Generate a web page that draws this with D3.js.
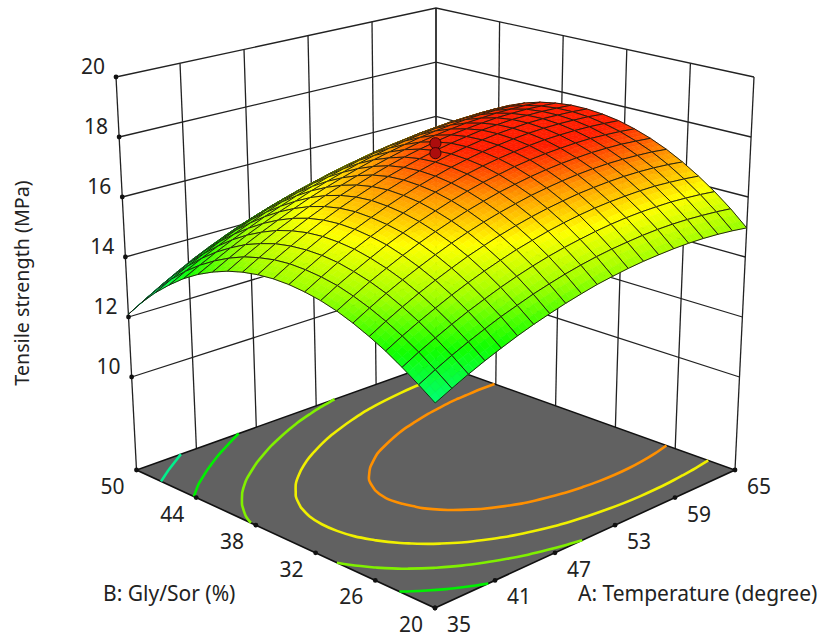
<!DOCTYPE html>
<html>
<head>
<meta charset="utf-8">
<script src="https://cdn.jsdelivr.net/npm/d3@7"></script>
<style>
  html, body { margin: 0; padding: 0; background: #fff; }
  text { font-family: "Noto Sans", sans-serif; font-size: 21px; fill: #222; }
</style>
</head>
<body>
<div id="chart"></div>
<script>
// Axis ticks
var tempTicks = [35, 41, 47, 53, 59, 65];
var glyTicks = [20, 26, 32, 38, 44, 50];
var tensileTicks = [10, 12, 14, 16, 18, 20];

// Floor contours
var contourLevels = [13, 13.95, 14.9, 15.8, 16.78];
var contourColors = ["#00f08c", "#00f000", "#80f000", "#f0f000", "#ff9000"];

// Design points: temperature, gly/sor, tensile strength
var designPoints = [[50, 35, 18.05], [50, 35, 17.72]];

// Tensile strength. Rows: A = 35..65 in 1.5 steps, columns: B = 20..50 in 1.5 steps
var tensileGrid = [
    [13.13, 13.49, 13.83, 14.14, 14.40, 14.63, 14.82, 14.96, 15.05, 15.10, 15.10, 15.05, 14.95, 14.80, 14.59, 14.33, 14.01, 13.62, 13.18, 12.67, 12.09],
    [13.38, 13.76, 14.11, 14.42, 14.69, 14.92, 15.11, 15.26, 15.35, 15.40, 15.41, 15.36, 15.25, 15.10, 14.88, 14.61, 14.29, 13.91, 13.47, 12.97, 12.41],
    [13.62, 14.01, 14.36, 14.68, 14.96, 15.20, 15.39, 15.53, 15.64, 15.69, 15.69, 15.64, 15.54, 15.37, 15.16, 14.88, 14.56, 14.18, 13.74, 13.26, 12.72],
    [13.84, 14.24, 14.60, 14.92, 15.21, 15.45, 15.64, 15.79, 15.90, 15.95, 15.96, 15.91, 15.80, 15.64, 15.41, 15.14, 14.81, 14.43, 14.00, 13.53, 13.01],
    [14.04, 14.45, 14.82, 15.15, 15.44, 15.68, 15.88, 16.04, 16.14, 16.20, 16.21, 16.16, 16.05, 15.88, 15.65, 15.37, 15.04, 14.67, 14.25, 13.79, 13.29],
    [14.23, 14.65, 15.02, 15.36, 15.65, 15.90, 16.10, 16.26, 16.36, 16.42, 16.44, 16.39, 16.28, 16.11, 15.88, 15.60, 15.27, 14.89, 14.48, 14.02, 13.54],
    [14.40, 14.82, 15.21, 15.55, 15.85, 16.10, 16.30, 16.46, 16.57, 16.63, 16.65, 16.60, 16.49, 16.32, 16.09, 15.80, 15.47, 15.10, 14.69, 14.25, 13.77],
    [14.55, 14.99, 15.38, 15.72, 16.02, 16.28, 16.48, 16.64, 16.76, 16.82, 16.84, 16.79, 16.68, 16.51, 16.28, 16.00, 15.67, 15.30, 14.89, 14.45, 13.99],
    [14.69, 15.13, 15.53, 15.88, 16.18, 16.44, 16.65, 16.81, 16.93, 16.99, 17.01, 16.97, 16.86, 16.68, 16.45, 16.17, 15.84, 15.47, 15.07, 14.64, 14.18],
    [14.81, 15.26, 15.66, 16.01, 16.32, 16.58, 16.79, 16.96, 17.07, 17.14, 17.16, 17.12, 17.02, 16.84, 16.61, 16.33, 16.01, 15.64, 15.24, 14.81, 14.36],
    [14.92, 15.37, 15.77, 16.13, 16.44, 16.70, 16.92, 17.09, 17.21, 17.28, 17.30, 17.26, 17.16, 16.98, 16.76, 16.48, 16.15, 15.79, 15.39, 14.97, 14.52],
    [15.00, 15.46, 15.86, 16.23, 16.54, 16.81, 17.02, 17.19, 17.32, 17.39, 17.42, 17.38, 17.28, 17.11, 16.88, 16.61, 16.29, 15.92, 15.53, 15.10, 14.66],
    [15.07, 15.53, 15.94, 16.31, 16.62, 16.89, 17.11, 17.29, 17.41, 17.49, 17.51, 17.48, 17.38, 17.22, 16.99, 16.72, 16.40, 16.04, 15.65, 15.23, 14.78],
    [15.12, 15.58, 16.00, 16.37, 16.69, 16.96, 17.18, 17.36, 17.48, 17.56, 17.59, 17.56, 17.47, 17.31, 17.09, 16.82, 16.51, 16.15, 15.76, 15.33, 14.88],
    [15.15, 15.62, 16.04, 16.41, 16.73, 17.01, 17.23, 17.41, 17.54, 17.62, 17.65, 17.63, 17.53, 17.38, 17.17, 16.90, 16.59, 16.24, 15.85, 15.42, 14.97],
    [15.17, 15.64, 16.06, 16.43, 16.76, 17.04, 17.26, 17.44, 17.58, 17.66, 17.69, 17.67, 17.58, 17.44, 17.23, 16.97, 16.67, 16.31, 15.92, 15.49, 15.03],
    [15.17, 15.64, 16.06, 16.44, 16.77, 17.05, 17.28, 17.46, 17.59, 17.68, 17.72, 17.70, 17.62, 17.47, 17.28, 17.03, 16.72, 16.38, 15.98, 15.55, 15.08],
    [15.15, 15.62, 16.05, 16.43, 16.76, 17.04, 17.27, 17.46, 17.59, 17.68, 17.72, 17.70, 17.63, 17.50, 17.31, 17.06, 16.77, 16.42, 16.03, 15.59, 15.10],
    [15.11, 15.58, 16.01, 16.39, 16.73, 17.01, 17.25, 17.43, 17.57, 17.66, 17.70, 17.69, 17.63, 17.50, 17.32, 17.08, 16.79, 16.45, 16.06, 15.61, 15.11],
    [15.05, 15.53, 15.96, 16.34, 16.68, 16.97, 17.20, 17.39, 17.53, 17.63, 17.67, 17.66, 17.60, 17.49, 17.32, 17.09, 16.81, 16.47, 16.07, 15.62, 15.10],
    [14.97, 15.46, 15.89, 16.27, 16.61, 16.90, 17.14, 17.33, 17.48, 17.57, 17.62, 17.62, 17.56, 17.46, 17.30, 17.08, 16.81, 16.47, 16.07, 15.61, 15.07]
];

var nodes = tensileGrid.length;
var width = 833, height = 637;
var floorZ = 6.9;
var svg = d3.select("#chart").append("svg").attr("width", width).attr("height", height);

// box corners on screen: [front, right, left, back]
var floorC = [[435, 608], [735, 470], [136.5, 470], [436, 363]];
var roofC = [[435.5, 177], [754, 77], [116, 77], [436, 8]];

var uScale = d3.scaleLinear().domain([35, 65]).range([0, 1]);
var vScale = d3.scaleLinear().domain([20, 50]).range([0, 1]);
var tScale = d3.scaleLinear().domain([floorZ, 20]).range([0, 1]);

function corner(c, u, v) {
    return [0, 1].map(function(k) {
        return c[0][k] * (1 - u) * (1 - v) + c[1][k] * u * (1 - v) + c[2][k] * (1 - u) * v + c[3][k] * u * v;
    });
}
function project(temp, gly, z, warp) {
    var u = uScale(temp), v = vScale(gly), t = tScale(z);
    if (warp) {
        // mesh cells get smaller towards the back
        u = u + warp * u * (1 - u);
        v = v + warp * v * (1 - v);
    }
    var p0 = corner(floorC, u, v), p1 = corner(roofC, u, v);
    return [p0[0] + (p1[0] - p0[0]) * t, p0[1] + (p1[1] - p0[1]) * t];
}
var lineGen = d3.line();

// Colors
var colorScale = d3.scaleLinear()
    .domain([12, 13.1, 14.1, 15.1, 16.05, 16.85, 17.5])
    .range(["#00dc96", "#00ff78", "#10ff00", "#a0ff00", "#ffff00", "#ff9600", "#ff1e00"])
    .clamp(true);

var walls = svg.append("g").attr("fill", "none").attr("stroke", "#222").attr("stroke-width", 1.3);

// left wall, B = 50
tempTicks.forEach(function(t) {
    walls.append("path").attr("d", lineGen([project(t, 50, floorZ), project(t, 50, 20)]));
});
// right wall, A = 65
glyTicks.forEach(function(g) {
    walls.append("path").attr("d", lineGen([project(65, g, floorZ), project(65, g, 20)]));
});
tensileTicks.forEach(function(z) {
    walls.append("path").attr("d", lineGen([project(35, 50, z), project(65, 50, z), project(65, 20, z)]));
});

// floor
svg.append("path")
    .attr("d", lineGen([project(35, 20, floorZ), project(65, 20, floorZ), project(65, 50, floorZ), project(35, 50, floorZ)]) + "Z")
    .attr("fill", "#616161").attr("stroke", "#111").attr("stroke-width", 1.6);

// contours on the floor
var contourGen = d3.contours().size([nodes, nodes]).thresholds(contourLevels);
var flat = [];
d3.range(nodes).forEach(function(j) {
    d3.range(nodes).forEach(function(i) { flat.push(tensileGrid[i][j]); });
});
var gridT = d3.scaleLinear().domain([0.5, nodes - 0.5]).range([35, 65]);
var gridG = d3.scaleLinear().domain([0.5, nodes - 0.5]).range([20, 50]);
function inside(pt) {
    return pt[0] >= 0.5 && pt[0] <= nodes - 0.5 && pt[1] >= 0.5 && pt[1] <= nodes - 0.5;
}
var smoothLine = d3.line().curve(d3.curveCatmullRom);
contourGen(flat).forEach(function(c, ci) {
    c.coordinates.forEach(function(poly) {
        poly.forEach(function(ring) {
            var pts = ring.slice(0, -1);
            var off = pts.findIndex(function(p) { return !inside(p); });
            var closed = off < 0;
            if (!closed) pts = pts.slice(off).concat(pts.slice(0, off));
            var run = [];
            var flush = function() {
                if (run.length > 1) {
                    svg.append("path")
                        .attr("d", smoothLine(run.map(function(p) {
                            return project(gridT(p[0]), gridG(p[1]), floorZ);
                        })) + (closed ? "Z" : ""))
                        .attr("fill", "none")
                        .attr("stroke", contourColors[ci])
                        .attr("stroke-width", 2.6);
                }
                run = [];
            };
            pts.forEach(function(p) {
                if (inside(p)) run.push(p); else flush();
            });
            flush();
        });
    });
});

// surface, far cells first
var cells = [];
for (var i = 0; i < nodes - 1; i++) {
    for (var j = 0; j < nodes - 1; j++) cells.push([i, j]);
}
cells.sort(function(p, q) { return (q[0] + q[1]) - (p[0] + p[1]); });

var surface = svg.append("g");
var sub = 3;
var meshWarp = 0.08;
var nodeT = d3.scaleLinear().domain([0, nodes - 1]).range([35, 65]);
var nodeG = d3.scaleLinear().domain([0, nodes - 1]).range([20, 50]);

cells.forEach(function(cell) {
    var i = cell[0], j = cell[1];
    var z00 = tensileGrid[i][j], z10 = tensileGrid[i + 1][j], z01 = tensileGrid[i][j + 1], z11 = tensileGrid[i + 1][j + 1];
    var at = function(s, r) {
        var zv = z00 * (1 - s) * (1 - r) + z10 * s * (1 - r) + z01 * (1 - s) * r + z11 * s * r;
        return { p: project(nodeT(i + s), nodeG(j + r), zv, meshWarp), z: zv };
    };
    d3.range(sub - 1, -1, -1).forEach(function(si) {
        d3.range(sub - 1, -1, -1).forEach(function(ri) {
            var a = at(si / sub, ri / sub), b = at((si + 1) / sub, ri / sub);
            var c = at((si + 1) / sub, (ri + 1) / sub), d = at(si / sub, (ri + 1) / sub);
            var col = colorScale((a.z + b.z + c.z + d.z) / 4);
            surface.append("path")
                .attr("d", lineGen([a.p, b.p, c.p, d.p]) + "Z")
                .attr("fill", col).attr("stroke", col).attr("stroke-width", 0.6);
        });
    });
    surface.append("path")
        .attr("d", lineGen([at(0, 0).p, at(1, 0).p, at(1, 1).p, at(0, 1).p]) + "Z")
        .attr("fill", "none").attr("stroke", "#1c1c10").attr("stroke-width", 0.95);
});

// design points
svg.selectAll("circle.pt")
    .data(designPoints)
    .enter().append("circle")
    .attr("class", "pt")
    .attr("cx", function(d) { return project(d[0], d[1], d[2])[0]; })
    .attr("cy", function(d) { return project(d[0], d[1], d[2])[1]; })
    .attr("r", 5.6)
    .attr("fill", "#ac0d0d").attr("stroke", "#3a0505").attr("stroke-width", 1);

// tick dots
var dots = [];
tensileTicks.forEach(function(z) { dots.push(project(35, 50, z)); });
glyTicks.forEach(function(g) { dots.push(project(35, g, floorZ)); });
tempTicks.forEach(function(t) { dots.push(project(t, 20, floorZ)); });
svg.selectAll("circle.dot")
    .data(dots)
    .enter().append("circle")
    .attr("class", "dot")
    .attr("cx", function(d) { return d[0]; })
    .attr("cy", function(d) { return d[1]; })
    .attr("r", 2.4).attr("fill", "#111");

// tick labels
tensileTicks.forEach(function(z) {
    var p = project(35, 50, z);
    svg.append("text").attr("x", p[0] - 11).attr("y", p[1] - 3).attr("text-anchor", "end").text(z);
});
glyTicks.forEach(function(g) {
    var p = project(35, g, floorZ);
    svg.append("text").attr("x", p[0] - 24).attr("y", p[1] + 24).attr("text-anchor", "middle").text(g);
});
tempTicks.forEach(function(t) {
    var p = project(t, 20, floorZ);
    svg.append("text").attr("x", p[0] + 24).attr("y", p[1] + 24).attr("text-anchor", "middle").text(t);
});

// axis titles
svg.append("text").attr("x", 103).attr("y", 601).text("B: Gly/Sor (%)");
svg.append("text").attr("x", 578).attr("y", 601).text("A: Temperature (degree)");
svg.append("text").attr("transform", "translate(29,283) rotate(-90)").attr("text-anchor", "middle").style("font-size", "19.7px").text("Tensile strength (MPa)");
</script>
</body>
</html>
